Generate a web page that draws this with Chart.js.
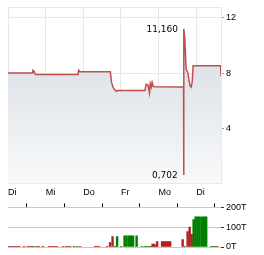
<!DOCTYPE html>
<html>
<head>
<meta charset="utf-8">
<script src="https://cdn.jsdelivr.net/npm/chart.js@4/dist/chart.umd.min.js"></script>
<style>
  html, body { margin: 0; padding: 0; background: #fff; }
  #wrap { position: relative; width: 264px; height: 255px; overflow: hidden; }
  #price { position: absolute; left: 0; top: 0; }
  #vol { position: absolute; left: 0; top: 200px; }
</style>
</head>
<body>
<div id="wrap">
  <canvas id="price" width="264" height="202"></canvas>
  <canvas id="vol" width="264" height="55"></canvas>
</div>
<script>
// x in trading days since the first "Di"
const dayLabels = ['Di', 'Mi', 'Do', 'Fr', 'Mo', 'Di'];
const dayTicks = [0, 1, 2, 3, 4, 5];
const xMax = 5.66;

const priceTimes = [0, 0.64, 0.66, 0.69, 0.73, 1.86, 1.88, 1.91, 2.72, 2.75, 2.79, 2.83, 2.88, 2.91,
  3.64, 3.67, 3.72, 3.76, 3.78, 3.81, 3.83, 3.86, 3.90, 4.665, 4.668, 4.675, 4.699, 4.721, 4.734,
  4.761, 4.787, 4.814, 4.840, 4.867, 4.894, 4.920, 5.650, 5.660];
const priceValues = [8.0, 8.0, 8.2, 8.15, 7.9, 7.9, 8.2, 8.1, 8.1, 7.35, 7.0, 6.82, 6.7, 6.75,
  6.75, 7.2, 7.15, 6.58, 7.25, 7.0, 7.34, 7.05, 7.03, 7.0, 0.702, 11.16, 10.41, 9.0, 8.28,
  8.14, 7.93, 7.43, 7.08, 7.0, 7.36, 8.52, 8.52, 7.79];
const priceTicks = [4, 8, 12];
const priceMin = 0.12;
const priceMax = 12.7;

const volTimes = [0.027, 0.080, 0.133, 0.186, 0.239, 0.293, 0.426, 0.532, 0.585, 0.638, 0.691, 0.771,
  0.824, 0.931, 1.090, 1.144, 1.197, 1.250, 1.303, 1.463, 1.543, 1.596, 1.649, 1.755, 1.835, 1.915,
  2.314, 2.367, 2.420, 2.633, 2.713, 2.779, 2.846, 2.899, 3.005, 3.098, 3.152, 3.218, 3.271, 3.324,
  3.418, 3.564, 3.644, 3.697, 3.750, 3.803, 3.843, 3.883, 3.923, 3.963, 4.096, 4.149, 4.202, 4.255,
  4.309, 4.641, 4.694, 4.774, 4.827, 4.880, 4.934, 4.987, 5.040, 5.093, 5.160, 5.213, 5.266, 5.399,
  5.452, 5.505, 5.559];
const volValues = [3, 3, 3, 3, 3, 3, 2, 2, 2, 2, 3, 3,
  3, 2, 3, 3, 3, 3, 3, 2, 2, 2, 2, 2, 3, 2,
  2, 2, 2, 2, 22, 52, 3, 52, 3, 57, 57, 57, 57, 57,
  57, 2, 2, 2, 3, 3, 15, 15, 7, 28, 28, 28, 28, 28,
  28, 38, 2, 78, 100, 64, 138, 152, 152, 152, 152, 152, 152, 2,
  2, 2, 1];
const volUp = [0, 0, 0, 0, 0, 0, 0, 0, 0, 1, 0, 0,
  0, 0, 0, 0, 0, 0, 0, 0, 0, 0, 0, 0, 1, 0,
  0, 0, 0, 0, 0, 0, 1, 1, 1, 1, 1, 1, 1, 1,
  1, 1, 1, 1, 0, 1, 0, 0, 0, 0, 0, 0, 0, 0,
  0, 0, 1, 0, 0, 0, 1, 1, 1, 1, 1, 1, 1, 1,
  1, 1, 0];
const volTicks = [0, 100, 200];

const axisFont = { family: 'Liberation Sans', size: 9 };
const gridGrey = '#e8e8e8';

const extremaLabels = {
  id: 'extremaLabels',
  afterDatasetsDraw(chart) {
    const meta = chart.getDatasetMeta(0);
    const vals = chart.data.datasets[0].data.map(p => p.y);
    const iMax = vals.indexOf(Math.max(...vals));
    const iMin = vals.indexOf(Math.min(...vals));
    const ctx = chart.ctx;
    ctx.save();
    ctx.font = '9px "DejaVu Sans"';
    ctx.fillStyle = '#000';
    ctx.textAlign = 'right';
    ctx.textBaseline = 'middle';
    [iMax, iMin].forEach(i => {
      const pt = meta.data[i];
      ctx.fillText(vals[i].toFixed(3).replace('.', ','), pt.x - 6, pt.y + 1);
    });
    ctx.restore();
  }
};

new Chart(document.getElementById('price'), {
  type: 'line',
  data: {
    datasets: [{
      data: priceTimes.map((t, i) => ({ x: t, y: priceValues[i] })),
      borderColor: 'rgb(192,78,78)',
      borderWidth: 1.5,
      fill: 'start',
      backgroundColor(c) {
        const area = c.chart.chartArea;
        if (!area) return 'rgb(215,222,228)';
        const g = c.chart.ctx.createLinearGradient(0, area.top, 0, area.bottom);
        g.addColorStop(0, 'rgb(208,216,223)');
        g.addColorStop(1, 'rgb(248,249,250)');
        return g;
      },
      pointRadius: 0,
      tension: 0
    }]
  },
  options: {
    responsive: false,
    animation: false,
    layout: { padding: { left: 8, top: 7, right: 0, bottom: 0 } },
    plugins: { legend: { display: false }, tooltip: { enabled: false } },
    scales: {
      x: {
        type: 'linear',
        min: 0,
        max: xMax,
        afterBuildTicks: s => { s.ticks = dayTicks.concat([xMax]).map(v => ({ value: v })); },
        grid: { color: gridGrey, drawTicks: false },
        border: { color: gridGrey },
        ticks: {
          align: 'start', padding: 4, color: '#000', font: axisFont,
          maxRotation: 0, autoSkip: false,
          callback: (v, i) => dayLabels[i] ?? ''
        }
      },
      y: {
        position: 'right',
        min: priceMin,
        max: priceMax,
        afterBuildTicks: s => { s.ticks = [priceMin, ...priceTicks, priceMax].map(v => ({ value: v })); },
        afterFit: s => { s.width = 43; },
        grid: {
          color: gridGrey,
          tickLength: 3,
          tickColor: c => priceTicks.includes(c.tick.value) ? '#999' : 'rgba(0,0,0,0)'
        },
        border: { color: gridGrey },
        ticks: {
          padding: 2, color: '#000', font: axisFont,
          callback: v => priceTicks.includes(v) ? String(v) : ''
        }
      }
    }
  },
  plugins: [extremaLabels]
});

new Chart(document.getElementById('vol'), {
  type: 'bar',
  data: {
    datasets: [{
      data: volTimes.map((t, i) => ({ x: t, y: volValues[i] })),
      backgroundColor: volUp.map(u => u ? '#008000' : '#b22222'),
      barThickness: 1.8
    }]
  },
  options: {
    responsive: false,
    animation: false,
    layout: { padding: { left: 8, top: 0, right: 0, bottom: 8 } },
    plugins: { legend: { display: false }, tooltip: { enabled: false } },
    scales: {
      x: {
        type: 'linear',
        position: 'top',
        min: 0,
        max: xMax,
        offset: false,
        afterBuildTicks: s => { s.ticks = dayTicks.map(v => ({ value: v })); },
        grid: { drawOnChartArea: false, tickLength: 4, color: '#000' },
        border: { display: false },
        ticks: { display: false }
      },
      y: {
        position: 'right',
        min: 0,
        max: 200,
        afterBuildTicks: s => { s.ticks = volTicks.map(v => ({ value: v })); },
        afterFit: s => { s.width = 43; },
        grid: { color: '#c8c8c8', tickLength: 3, tickColor: '#333' },
        border: { display: false },
        ticks: { padding: 2, color: '#000', font: axisFont, callback: v => v + 'T' }
      }
    }
  }
});
</script>
</body>
</html>
